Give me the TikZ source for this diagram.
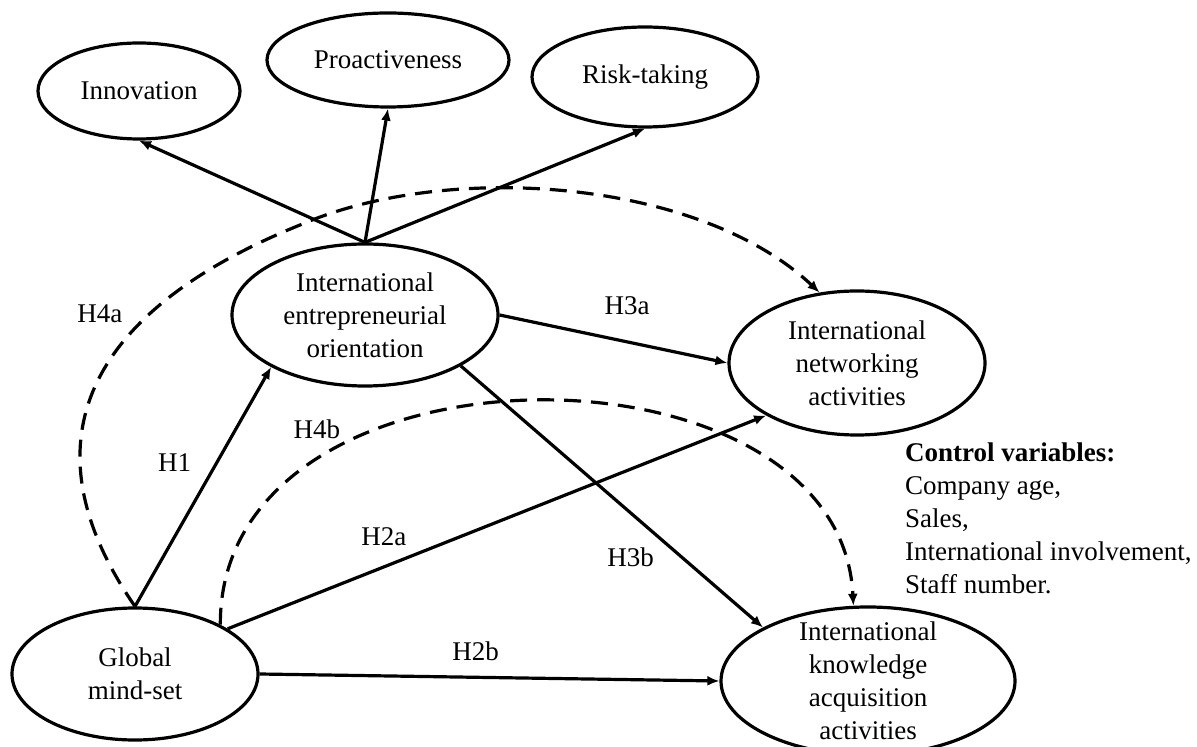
\documentclass[tikz,border=0pt]{standalone}
\usepackage{fontspec}
\setmainfont{Liberation Serif}
\usetikzlibrary{shapes.geometric,arrows.meta,positioning}

\begin{document}
\begin{tikzpicture}[x=0.5pt, y=-0.5pt,
    font=\fontsize{13.5}{16.5}\selectfont,
    construct/.style={ellipse, draw, line width=1.6pt, inner sep=0pt, align=center},
    link/.style={-{Latex[length=6pt,width=5pt]}, line width=1.6pt},
    indirect/.style={link, dash pattern=on 8.5pt off 5pt},
    hyp/.style={inner sep=0pt}]

    \useasboundingbox (0,0) rectangle (1197,747);

    % EO dimensions
    \node[construct, minimum width=101pt, minimum height=48pt] (inno) at (139,91) {Innovation};
    \node[construct, minimum width=121pt, minimum height=47pt] (proa) at (388,60) {Proactiveness};
    \node[construct, minimum width=113pt, minimum height=50pt] (risk) at (645,77) {Risk-taking};

    % constructs
    \node[construct, minimum width=133pt, minimum height=71pt] (IEO) at (365,315) {International\\entrepreneurial\\orientation};
    \node[construct, minimum width=128pt, minimum height=72pt] (INA) at (857,363) {International\\networking\\activities};
    \node[construct, minimum width=123pt, minimum height=66pt] (GM) at (135,674) {Global\\mind-set};
    \node[construct, minimum width=147pt, minimum height=74pt, inner ysep=-6pt] (IKAA) at (868,681) {International\\knowledge\\acquisition\\activities};

    \node[anchor=west, align=left] (ctrl) at (898,518) {\textbf{Control variables:}\\Company age,\\Sales,\\International involvement,\\Staff number.};

    \path[link]
        (IEO.north) edge (inno.south)
        (IEO.north) edge (proa.south)
        (IEO.north) edge (risk.south)

        (GM.north) edge node[hyp, pos=.6, left=12pt] (lH1) {H1} (IEO.209)
        (GM.26) edge node[hyp, pos=.29, above=10pt] (lH2a) {H2a} (INA.210)
        (GM.east) edge node[hyp, pos=.47, above=7.5pt] (lH2b) {H2b} (IKAA.west)

        (IEO.east) edge node[hyp, pos=.56, above=13pt] (lH3a) {H3a} (INA.west)
        (IEO.-28) edge node[hyp, pos=.73, left=13pt] (lH3b) {H3b} (IKAA.153);

    % mediation paths
    \coordinate (h4atop) at (300,225);
    \draw[indirect] (GM.north) .. controls (20,440) and (90,310) .. (h4atop)
        node[hyp, pos=.7, left=13pt] (lH4a) {H4a}
        .. controls (450,160) and (700,180) .. (INA.118);
    \draw[indirect] (GM.30) .. controls (219,330) and (840,330) .. (IKAA.101)
        node[hyp, pos=.25, above=9pt] (lH4b) {H4b};

\end{tikzpicture}
\end{document}
